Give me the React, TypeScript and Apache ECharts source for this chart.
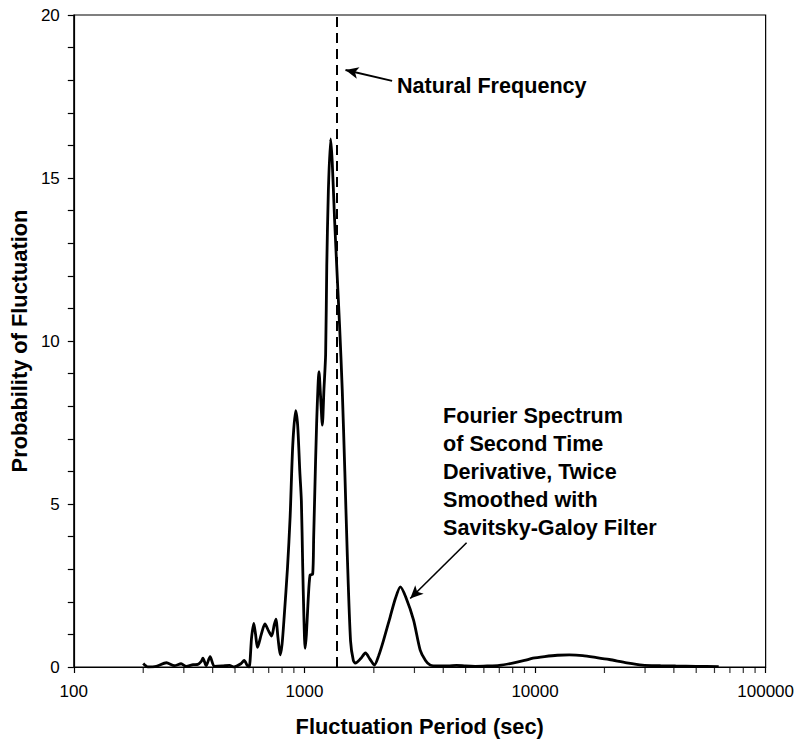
import React, { useEffect, useRef } from "react";
import * as echarts from "echarts";

// Fluctuation period (sec)
const periods: number[] = [
  200, 210, 228, 252, 273, 292, 307, 329, 345, 357, 363, 375, 390, 407, 440, 473, 495, 530, 548, 565, 576,
  590, 603, 614, 626, 650, 674, 700, 721, 740, 752, 768, 785, 800, 817, 845, 867, 890, 916, 935, 955, 970,
  983, 995, 1007, 1020, 1038, 1058, 1086, 1097, 1107, 1130, 1157, 1175, 1196, 1215, 1236, 1250, 1270, 1299,
  1320, 1350, 1387, 1420, 1459, 1497, 1535, 1585, 1630, 1665, 1750, 1840, 1920, 2010, 2100, 2200, 2355,
  2480, 2606, 2750, 2974, 3177, 3350, 3508, 3800, 4200, 4570, 5000, 5500, 6200, 7000, 8000, 9000, 9790,
  11000, 12500, 14080, 16100, 18500, 21000, 25000, 29200, 35000, 40700, 50000, 62600,
];
// Probability of fluctuation
const probability: number[] = [
  0.11, 0.0, 0.02, 0.13, 0.04, 0.1, 0.02, 0.07, 0.08, 0.17, 0.27, 0.04, 0.32, 0.02, 0.03, 0.05, 0.0, 0.1, 0.2, 0.05, 0.0,
  0.9, 1.34, 1.0, 0.6, 1.0, 1.32, 1.1, 0.95, 1.3, 1.47, 0.9, 0.37, 0.7, 1.54, 3.07, 4.6, 6.8, 7.86, 7.4, 6.0, 5.1,
  3.1, 1.5, 0.57, 1.0, 2.05, 2.82, 2.85, 4.0, 5.12, 7.5, 9.06, 8.3, 7.42, 8.5, 9.6, 12.3, 14.6, 16.2,
  15.5, 13.8, 12.0, 10.5, 8.5, 6.0, 3.4, 0.8, 0.2, 0.12, 0.25, 0.43, 0.25, 0.06, 0.35, 0.8, 1.54,
  2.1, 2.46, 2.15, 1.44, 0.52, 0.2, 0.06, 0.03, 0.03, 0.05, 0.03, 0.02, 0.03, 0.05, 0.12, 0.2, 0.27,
  0.32, 0.36, 0.37, 0.35, 0.29, 0.23, 0.13, 0.06, 0.04, 0.03, 0.02, 0.01,
];

const naturalPeriod = 1375;
const xMin = 100;
const xMax = 100000;
const yMin = 0;
const yMax = 20;
const yInterval = 5;
const xMinorTicks: number[] = [
  200, 300, 400, 500, 600, 700, 800, 900,
  2000, 3000, 4000, 5000, 6000, 7000, 8000, 9000,
  20000, 30000, 40000, 50000, 60000, 70000, 80000, 90000,
];

const FONT = '"Liberation Sans", Arial, Helvetica, sans-serif';

export default function App() {
  const ref = useRef<HTMLDivElement>(null);
  useEffect(() => {
    if (!ref.current) return;
    const chart = echarts.init(ref.current, undefined, { renderer: "svg" });
    const data = periods.map((p, i) => [p, probability[i]]);
    chart.setOption({
      animation: false,
      backgroundColor: "#fff",
      grid: {
        left: 72,
        right: 30,
        top: 15,
        bottom: 75,
        show: true,
        borderColor: "#000",
        borderWidth: 1.2,
        backgroundColor: "transparent",
      },
      xAxis: {
        type: "log",
        logBase: 10,
        min: xMin,
        max: xMax,
        name: "Fluctuation Period (sec)",
        nameLocation: "middle",
        nameGap: 48,
        nameTextStyle: { fontFamily: FONT, fontSize: 21.8, fontWeight: "bold", color: "#000" },
        axisLine: { show: true, lineStyle: { color: "#000", width: 1.2 } },
        axisTick: { show: true, length: 6, lineStyle: { color: "#000", width: 1.2 } },
        axisLabel: {
          fontFamily: FONT,
          fontSize: 17,
          color: "#000",
          margin: 16,
          formatter: (v: number) => String(Math.round(v)),
        },
        splitLine: { show: false },
        minorTick: { show: false },
      },
      yAxis: {
        type: "value",
        min: yMin,
        max: yMax,
        interval: yInterval,
        name: "Probability of Fluctuation",
        nameLocation: "middle",
        nameGap: 30,
        nameTextStyle: { fontFamily: FONT, fontSize: 21.8, fontWeight: "bold", color: "#000" },
        axisLine: { show: true, lineStyle: { color: "#000", width: 1.2 } },
        axisTick: { show: true, length: 6, lineStyle: { color: "#000", width: 1.2 } },
        minorTick: { show: true, splitNumber: 5, length: 6, lineStyle: { color: "#000", width: 1.2 } },
        axisLabel: { fontFamily: FONT, fontSize: 17, color: "#000", margin: 14 },
        splitLine: { show: false },
      },
      series: [
        {
          type: "line",
          data,
          smooth: 0.25,
          symbol: "none",
          lineStyle: { color: "#000", width: 2.8 },
          z: 3,
          markLine: {
            silent: true,
            animation: false,
            label: { show: false },
            data: [
              [
                { coord: [naturalPeriod, yMin], symbol: "none", lineStyle: { color: "#000", width: 2, type: [10, 6] } },
                { coord: [naturalPeriod, yMax], symbol: "none" },
              ],
              [
                { coord: [2400, 17.98], symbol: "none", lineStyle: { color: "#000", width: 2, type: "solid" } },
                { coord: [1507, 18.31], symbol: "arrow", symbolSize: [9, 13] },
              ],
              [
                { coord: [5050, 3.81], symbol: "none", lineStyle: { color: "#000", width: 1.6, type: "solid" } },
                { coord: [2876, 2.1], symbol: "arrow", symbolSize: [9, 13] },
              ],
            ],
          },
        },
        {
          type: "scatter",
          data: xMinorTicks.map((v) => [v, yMin]),
          symbol: "rect",
          symbolSize: [1.2, 6],
          symbolOffset: [0, 3],
          itemStyle: { color: "#000" },
          clip: false,
          silent: true,
          z: 2,
        },
      ],
      graphic: [
        {
          type: "text",
          left: 397,
          top: 74,
          style: { text: "Natural Frequency", font: `bold 21.6px ${FONT}`, fill: "#000" },
        },
        {
          type: "text",
          left: 443,
          top: 401,
          style: {
            text: "Fourier Spectrum\nof Second Time\nDerivative, Twice\nSmoothed with\nSavitsky-Galoy Filter",
            font: `bold 21.6px ${FONT}`,
            lineHeight: 28,
            fill: "#000",
          },
        },
      ],
    });
    return () => chart.dispose();
  }, []);
  return (
    <div
      ref={ref}
      style={{ position: "absolute", left: 0, top: 0, width: 797, height: 742, background: "#fff" }}
    />
  );
}
